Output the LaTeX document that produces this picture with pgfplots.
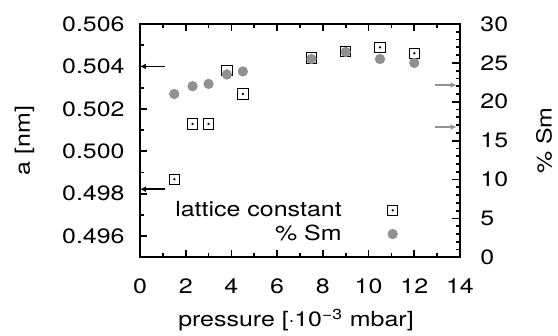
\documentclass[border=0pt]{standalone}
\usepackage{fontspec}
\setmainfont{TeX Gyre Heros}[FakeStretch=1.2]
\usepackage{pgfplots}
\pgfplotsset{compat=1.18}
\usetikzlibrary{arrows.meta}
\definecolor{smgray}{RGB}{145,145,145}
\newcommand{\tf}{\fontsize{10.4}{12.5}\selectfont}
\newcommand{\tl}[1]{\textnormal{\tf #1}}
\pgfplotsset{
  mylegimg/.style={legend image code/.code={\path[draw=none] (0pt,0pt) (25.5pt,0pt);
     \draw[##1] plot coordinates {(25.5pt,0pt)};}},
  sqlegimg/.style={legend image code/.code={\path[draw=none] (0pt,0pt) (25.5pt,0pt);
     \draw[only marks, mark=square, mark size=2.6pt, black, line width=0.5pt] plot coordinates {(25.5pt,0pt)};
     \fill[black] (25.5pt,0pt) circle (0.35pt);}},
}
\begin{document}
\tf
\begin{tikzpicture}
\pgfplotsset{
  common/.style={
    scale only axis, width=160pt, height=116.65pt,
    xmin=0, xmax=14, clip=false,
    tick style={line width=0.9pt, black},
    major tick length=3.75pt, minor tick length=2pt,
    tick align=inside,
    axis line style={line width=1pt},
    tick label style={font=\tf},
    label style={font=\tf},
  }
}
\begin{axis}[common,
  ymin=0.495, ymax=0.506,
  ytick={0.496,0.498,0.500,0.502,0.504,0.506},
  yticklabels={\tl{0.496},\tl{0.498},\tl{0.500},\tl{0.502},\tl{0.504},\tl{0.506}},
  minor ytick={0.497,0.499,0.501,0.503,0.505},
  scaled y ticks=false,
  y tick label style={inner sep=0pt, anchor=east, xshift=-7.5pt},
  xtick={0,2,4,6,8,10,12,14},
  xticklabels={\tl{0},\tl{2},\tl{4},\tl{6},\tl{8},\tl{10},\tl{12},\tl{14}},
  minor xtick={1,3,5,7,9,11,13},
  x tick label style={inner sep=0pt, anchor=north, yshift=-10.5pt},
  ytick pos=left, xtick pos=both,
  xlabel={pressure [$\cdot$10\textsuperscript{−3} mbar]},
  ylabel={a [nm]},
  every axis x label/.style={at={(rel axis cs:0.5,0)}, xshift=-2pt, yshift=-34.5pt, anchor=base},
  every axis y label/.style={at={(rel axis cs:0,0.5)}, xshift=-57.75pt, rotate=90, anchor=center},
]
\addplot[only marks, mark=square, mark size=2.6pt, black, line width=0.5pt]
  coordinates {(1.5,0.49868) (2.3,0.50129) (3.0,0.50129) (3.8,0.50381) (4.5,0.50270)
               (7.5,0.50440) (9.0,0.50471) (10.5,0.50490) (12.0,0.50462)};
\addplot[only marks, mark=*, mark size=0.35pt, black]
  coordinates {(1.5,0.49868) (2.3,0.50129) (3.0,0.50129) (3.8,0.50381) (4.5,0.50270)
               (7.5,0.50440) (9.0,0.50471) (10.5,0.50490) (12.0,0.50462)};
\addplot[-{Latex[length=3pt,width=3pt]}, line width=0.9pt, black] coordinates {(1.09,0.50400) (0,0.50400)};
\addplot[-{Latex[length=3pt,width=3pt]}, line width=0.9pt, black] coordinates {(1.09,0.49821) (0,0.49821)};
\coordinate (O) at (rel axis cs:0,0);
\end{axis}
\begin{axis}[common,
  ymin=0, ymax=30,
  ytick={0,5,10,15,20,25,30},
  yticklabels={\tl{0},\tl{5},\tl{10},\tl{15},\tl{20},\tl{25},\tl{30}},
  minor y tick num=4,
  axis y line*=right, axis x line=none,
  y tick label style={inner sep=0pt, anchor=west, xshift=10pt},
  ylabel={\% Sm},
  every axis y label/.style={at={(rel axis cs:1,0.5)}, xshift=42pt, rotate=90, anchor=center},
  legend plot pos=right,
  legend cell align=right,
  legend style={draw=none, fill=none, at={(axis cs:11.30,4.5)}, anchor=east,
    inner sep=0pt, row sep=2.6pt, nodes={inner sep=0pt},
    font=\tf},
]
\addlegendimage{sqlegimg}
\addlegendentry{lattice constant}
\addplot[only marks, mark=*, mark size=2.35pt, smgray, draw=none, mylegimg]
  coordinates {(1.5,21.0) (2.3,22.0) (3.0,22.3) (3.8,23.5) (4.5,23.9)
               (7.5,25.5) (9.0,26.4) (10.5,25.5) (12.0,25.0)};
\addlegendentry{\% Sm}
\addplot[-{Latex[length=3pt,width=3pt]}, line width=0.9pt, smgray] coordinates {(12.91,22.15) (13.85,22.15)};
\addplot[-{Latex[length=3pt,width=3pt]}, line width=0.9pt, smgray] coordinates {(12.91,16.75) (13.85,16.75)};
\end{axis}
\pgfresetboundingbox
\path[use as bounding box] ([shift={(-70pt,-39.35pt)}]O) rectangle ([shift={(209pt,128.65pt)}]O);
\end{tikzpicture}
\end{document}
